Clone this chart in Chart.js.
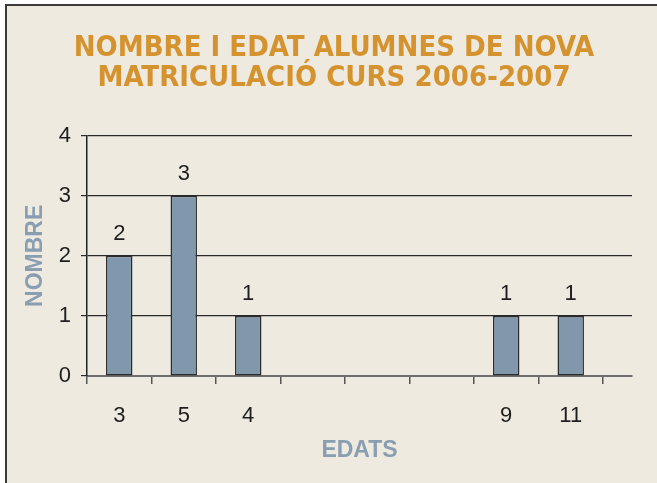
<!DOCTYPE html>
<html>
<head>
<meta charset="utf-8">
<script src="https://cdn.jsdelivr.net/npm/chart.js@4"></script>
<style>
  html, body { margin: 0; padding: 0; background: #ffffff; }
  #frame { position: absolute; left: 5px; top: 4px; width: 652px; height: 479px;
           background: #EEEAE0; border-left: 2px solid #3a3a3a; border-top: 2px solid #3a3a3a;
           box-sizing: border-box; }
  #wrap { position: absolute; left: 0; top: 0; width: 657px; height: 483px; }
</style>
</head>
<body>
<div id="frame"></div>
<div id="wrap"><canvas id="c" width="657" height="483"></canvas></div>
<script>
const titleLines = ['NOMBRE I EDAT ALUMNES DE NOVA', 'MATRICULACIÓ CURS 2006-2007'];
const ages = ['3', '5', '4', '', '', '', '9', '11'];
const counts = [2, 3, 1, null, null, null, 1, 1];
const yTicks = [0, 1, 2, 3, 4];
const xAxisTitle = 'EDATS';
const yAxisTitle = 'NOMBRE';

const points = [];
ages.forEach((a, i) => { if (counts[i] !== null) points.push({ x: i + 0.5, y: counts[i] }); });

const valueLabels = {
  id: 'valueLabels',
  afterDatasetsDraw(chart) {
    const ctx = chart.ctx;
    const meta = chart.getDatasetMeta(0);
    ctx.save();
    ctx.font = '22px "Liberation Sans", Arial, sans-serif';
    ctx.fillStyle = '#1e1e1e';
    ctx.textAlign = 'center';
    ctx.textBaseline = 'middle';
    meta.data.forEach((bar, i) => {
      ctx.fillText(String(points[i].y), bar.x, bar.y - 22);
    });
    ctx.restore();
  }
};

new Chart(document.getElementById('c'), {
  type: 'bar',
  data: {
    datasets: [{
      data: points,
      backgroundColor: '#8097AC',
      borderColor: '#2b2b2b',
      borderWidth: 1.5,
      borderSkipped: false,
      barPercentage: 0.82,
      categoryPercentage: 1
    }]
  },
  options: {
    responsive: false,
    animation: false,
    devicePixelRatio: 1,
    layout: { padding: { left: 36, right: 25, top: 0, bottom: 0 } },
    plugins: {
      legend: { display: false },
      tooltip: { enabled: false },
      title: {
        display: true,
        text: titleLines,
        color: '#D4932F',
        font: { family: '"DejaVu Sans Condensed", "Liberation Sans", Arial, sans-serif', size: 29, weight: 'bold', lineHeight: 1.03 },
        padding: { top: 34, bottom: 42 }
      }
    },
    scales: {
      x: {
        type: 'linear',
        offset: false,
        min: 0,
        max: 8.45,
        afterBuildTicks(scale) {
          const t = [];
          for (let i = 0; i <= ages.length; i++) {
            t.push({ value: i });
            if (i < ages.length) t.push({ value: i + 0.5 });
          }
          scale.ticks = t;
        },
        afterFit(scale) { scale.height = 107; },
        ticks: {
          autoSkip: false,
          maxRotation: 0,
          padding: 19,
          color: '#1e1e1e',
          font: { family: '"Liberation Sans", Arial, sans-serif', size: 22 },
          callback(value) {
            const i = Math.floor(value);
            return (value - i) > 0.25 ? ages[i] : '';
          }
        },
        grid: {
          drawOnChartArea: false,
          drawTicks: true,
          tickLength: 8,
          lineWidth: 1.5,
          offset: false,
          color(ctx) {
            const v = ctx.tick ? ctx.tick.value : 0;
            return Number.isInteger(v) ? '#555555' : 'rgba(0,0,0,0)';
          }
        },
        border: { display: true, color: '#6f6f6f', width: 2 },
        title: {
          display: true,
          text: xAxisTitle,
          color: '#8A9EB2',
          font: { family: '"Liberation Sans", Arial, sans-serif', size: 23, weight: 'bold' },
          padding: { top: 19, bottom: 19 }
        }
      },
      y: {
        min: 0,
        max: 4,
        afterBuildTicks(scale) { scale.ticks = yTicks.map(v => ({ value: v })); },
        afterFit(scale) { scale.width = 51; },
        ticks: {
          padding: 10,
          color: '#1e1e1e',
          font: { family: '"Liberation Sans", Arial, sans-serif', size: 22 }
        },
        grid: {
          color: '#2a2a2a',
          lineWidth: 1.2,
          tickLength: 6,
          drawTicks: true
        },
        border: { display: true, color: '#222222', width: 1.5 },
        title: {
          display: true,
          text: yAxisTitle,
          color: '#8A9EB2',
          font: { family: '"Liberation Sans", Arial, sans-serif', size: 23, weight: 'bold' },
          padding: { top: -14, bottom: 0 }
        }
      }
    }
  },
  plugins: [valueLabels]
});
</script>
</body>
</html>
